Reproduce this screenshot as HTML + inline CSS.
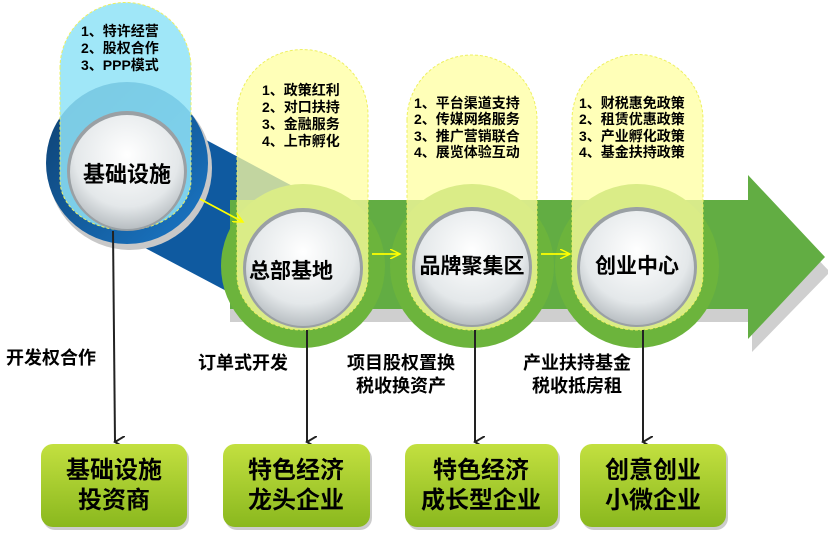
<!DOCTYPE html>
<html><head><meta charset="utf-8"><style>
html,body{margin:0;padding:0;background:#fff;}
svg{display:block;}
text{font-family:"Liberation Sans","Noto Sans CJK SC",sans-serif;font-weight:bold;fill:#000;}
</style></head><body>
<svg width="828" height="534" viewBox="0 0 828 534" xmlns="http://www.w3.org/2000/svg">
<defs>
<radialGradient id="wc" cx="50%" cy="35%" r="65%">
<stop offset="0" stop-color="#ffffff"/><stop offset="0.7" stop-color="#e4e8ea"/><stop offset="1" stop-color="#b8bec2"/>
</radialGradient>
<linearGradient id="bx" x1="0" y1="0" x2="0" y2="1">
<stop offset="0" stop-color="#c3e040"/><stop offset="1" stop-color="#8ab81e"/>
</linearGradient>
<linearGradient id="bl" x1="0" y1="0" x2="1" y2="1">
<stop offset="0" stop-color="#0d3e6e"/><stop offset="1" stop-color="#1a78c8"/>
</linearGradient>
<marker id="ah" markerWidth="12" markerHeight="12" refX="6" refY="10" orient="auto" markerUnits="userSpaceOnUse">
<path d="M0,0 L6,10 L12,0" fill="none" stroke="#222" stroke-width="2"/>
</marker>
<marker id="ya" markerWidth="12" markerHeight="10" refX="10" refY="5" orient="auto" markerUnits="userSpaceOnUse">
<path d="M0,0 L10,5 L0,10" fill="none" stroke="#ffff00" stroke-width="1.5"/>
</marker>
</defs>
<path d="M230,215 L752,215 L752,190 L830,272 L752,352 L752,322 L230,322 Z" fill="#cfcfcf"/>
<path d="M150,110 L300,190 L300,330 L130,240 Z" fill="#0f5aa0"/>
<path d="M230,200 L748,200 L748,175 L825,257 L748,339 L748,309 L230,309 Z" fill="#62ad43"/>
<circle cx="130" cy="168" r="82" fill="#c8c8c8"/>
<circle cx="127" cy="163" r="81" fill="url(#bl)"/>
<circle cx="303" cy="266" r="82" fill="#6cb43c"/>
<circle cx="472" cy="266" r="82" fill="#6cb43c"/>
<circle cx="637" cy="266" r="82" fill="#6cb43c"/>
<path d="M60,68 A65.5,65.5 0 0 1 191,68 L191,180 A65.5,50 0 0 1 60,180 Z" fill="#8fe3f7" fill-opacity="0.85" stroke="#eef060" stroke-dasharray="3,2"/>
<path d="M237,115 A65.5,65.5 0 0 1 368,115 L368,275 A65.5,55 0 0 1 237,275 Z" fill="#ffffa0" fill-opacity="0.75" stroke="#eef060" stroke-dasharray="3,2"/>
<path d="M407,120 A65,65 0 0 1 537,120 L537,275 A65,55 0 0 1 407,275 Z" fill="#ffffa0" fill-opacity="0.75" stroke="#eef060" stroke-dasharray="3,2"/>
<path d="M572,120 A65.5,65.5 0 0 1 703,120 L703,275 A65.5,55 0 0 1 572,275 Z" fill="#ffffa0" fill-opacity="0.75" stroke="#eef060" stroke-dasharray="3,2"/>
<circle cx="127" cy="171" r="60" fill="#9aa0a4"/>
<circle cx="127" cy="172" r="57" fill="url(#wc)"/>
<circle cx="303" cy="268" r="60" fill="#9aa0a4"/>
<circle cx="303" cy="269" r="57" fill="url(#wc)"/>
<circle cx="472" cy="267" r="60" fill="#9aa0a4"/>
<circle cx="472" cy="268" r="57" fill="url(#wc)"/>
<circle cx="637" cy="267" r="60" fill="#9aa0a4"/>
<circle cx="637" cy="268" r="57" fill="url(#wc)"/>
<line x1="200" y1="199" x2="243" y2="222" stroke="#ffff00" stroke-width="1.8" marker-end="url(#ya)"/>
<line x1="372" y1="254" x2="400" y2="254" stroke="#ffff00" stroke-width="1.8" marker-end="url(#ya)"/>
<line x1="541" y1="254" x2="570" y2="254" stroke="#ffff00" stroke-width="1.8" marker-end="url(#ya)"/>
<text x="127" y="182" font-size="22" text-anchor="middle">基础设施</text>
<text x="291" y="278" font-size="21" text-anchor="middle">总部基地</text>
<text x="472" y="273" font-size="21" text-anchor="middle">品牌聚集区</text>
<text x="637" y="273" font-size="21" text-anchor="middle">创业中心</text>
<g font-size="14">
<text x="81" y="36">1、特许经营</text>
<text x="81" y="53">2、股权合作</text>
<text x="81" y="70">3、PPP模式</text>
<text x="262" y="95">1、政策红利</text>
<text x="262" y="112">2、对口扶持</text>
<text x="262" y="129">3、金融服务</text>
<text x="262" y="146">4、上市孵化</text>
<text x="414" y="108">1、平台渠道支持</text>
<text x="414" y="124">2、传媒网络服务</text>
<text x="414" y="141">3、推广营销联合</text>
<text x="414" y="157">4、展览体验互动</text>
<text x="579" y="108">1、财税惠免政策</text>
<text x="579" y="124">2、租赁优惠政策</text>
<text x="579" y="141">3、产业孵化政策</text>
<text x="579" y="157">4、基金扶持政策</text>
</g>
<g stroke="#222" stroke-width="2" marker-end="url(#ah)">
<line x1="113" y1="231" x2="115" y2="442"/>
<line x1="307" y1="330" x2="307" y2="442"/>
<line x1="475" y1="330" x2="475" y2="442"/>
<line x1="643" y1="330" x2="643" y2="442"/>
</g>
<g font-size="18">
<text x="6" y="364">开发权合作</text>
<text x="198" y="369">订单式开发</text>
<text x="401" y="369" text-anchor="middle">项目股权置换</text>
<text x="401" y="392" text-anchor="middle">税收换资产</text>
<text x="577" y="369" text-anchor="middle">产业扶持基金</text>
<text x="577" y="392" text-anchor="middle">税收抵房租</text>
</g>
<g>
<rect x="43" y="447" width="146" height="83" rx="12" fill="#9a9a9a" opacity="0.5"/>
<rect x="41" y="444" width="146" height="83" rx="12" fill="url(#bx)"/>
<rect x="225" y="447" width="147" height="83" rx="12" fill="#9a9a9a" opacity="0.5"/>
<rect x="223" y="444" width="147" height="83" rx="12" fill="url(#bx)"/>
<rect x="407" y="447" width="153" height="83" rx="12" fill="#9a9a9a" opacity="0.5"/>
<rect x="405" y="444" width="153" height="83" rx="12" fill="url(#bx)"/>
<rect x="582" y="447" width="146" height="83" rx="12" fill="#9a9a9a" opacity="0.5"/>
<rect x="580" y="444" width="146" height="83" rx="12" fill="url(#bx)"/>
</g>
<g font-size="24" text-anchor="middle">
<text x="114" y="478">基础设施</text>
<text x="114" y="508">投资商</text>
<text x="296" y="478">特色经济</text>
<text x="296" y="508">龙头企业</text>
<text x="481" y="478">特色经济</text>
<text x="481" y="508">成长型企业</text>
<text x="653" y="478">创意创业</text>
<text x="653" y="508">小微企业</text>
</g>
</svg>
</body></html>
